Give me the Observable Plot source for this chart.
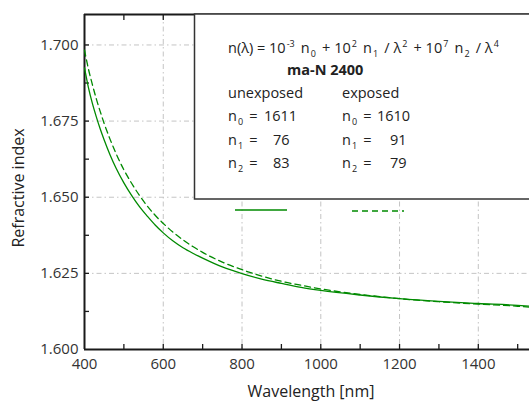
<!DOCTYPE html>
<html>
<head>
<meta charset="utf-8">
<script src="https://cdn.jsdelivr.net/npm/d3@7"></script>
<script src="https://cdn.jsdelivr.net/npm/@observablehq/plot@0.6"></script>
<style>
  html, body { margin: 0; padding: 0; background: #fff; }
  #chart svg { display: block; }
</style>
</head>
<body>
<div id="chart"></div>
<script>
// Wavelength samples (nm)
const wavelength = [400, 410, 420, 430, 440, 450, 465, 480, 500, 520, 540, 560, 580, 600, 625, 650, 675, 700, 750, 800, 850, 900, 950, 1000, 1100, 1200, 1300, 1400, 1500, 1530];
// Refractive index of ma-N 2400, unexposed film
const nUnexposed = [1.6925, 1.6860, 1.6808, 1.6764, 1.6724, 1.6688, 1.6639, 1.6596, 1.6547, 1.6505, 1.6468, 1.6437, 1.6408, 1.6383, 1.6356, 1.6334, 1.6316, 1.6300, 1.6271, 1.6249, 1.6231, 1.6217, 1.6204, 1.6194, 1.6179, 1.6167, 1.6158, 1.6151, 1.6145, 1.6142];
// Refractive index of ma-N 2400, exposed film
const nExposed = [1.6983, 1.6921, 1.6870, 1.6823, 1.6781, 1.6742, 1.6690, 1.6644, 1.6590, 1.6545, 1.6505, 1.6470, 1.6440, 1.6414, 1.6385, 1.6360, 1.6338, 1.6319, 1.6287, 1.6262, 1.6241, 1.6224, 1.6211, 1.6199, 1.6181, 1.6167, 1.6157, 1.6149, 1.6142, 1.6139];

// Axis ticks
const xLabelTicks = [400, 600, 800, 1000, 1200, 1400];
const xMinorTicks = [500, 600, 700, 800, 900, 1000, 1100, 1200, 1300, 1400, 1500];
const xGrid = [600, 800, 1000, 1200, 1400];
const yLabelTicks = [1.600, 1.625, 1.650, 1.675, 1.700];
const yMinorTicks = [1.6125, 1.625, 1.6375, 1.650, 1.6625, 1.675, 1.6875, 1.700];
const yGrid = [1.625, 1.650, 1.675, 1.700];

// Cauchy coefficients shown in the inset
const coeffNames = ["0", "1", "2"];
const coeffUnexposed = ["1611", "76", "83"];
const coeffExposed = ["1610", "91", "79"];

const unexposed = wavelength.map((w, i) => ({w, n: nUnexposed[i]}));
const exposed = wavelength.map((w, i) => ({w, n: nExposed[i]}));

const FONT = "Open Sans, sans-serif";
const GREEN = "#008a00";
const AXIS = "#1a1a1a";
const GRIDC = "#c4c4c4";

const plot = Plot.plot({
  width: 529,
  height: 403,
  marginLeft: 84,
  marginRight: 0,
  marginTop: 14,
  marginBottom: 54,
  style: {fontFamily: FONT, fontSize: "15px", color: "#333", background: "#fff"},
  x: {domain: [400, 1530]},
  y: {domain: [1.6, 1.71]},
  marks: [
    Plot.gridX(xGrid, {stroke: GRIDC, strokeOpacity: 1, strokeDasharray: "5,3,1.5,3"}),
    Plot.gridY(yGrid, {stroke: GRIDC, strokeOpacity: 1, strokeDasharray: "5,3,1.5,3"}),
    // inward tick marks
    Plot.axisX(xMinorTicks, {anchor: "bottom", tickSize: 5, dy: -5, text: null, label: null, stroke: AXIS, strokeWidth: 1.3}),
    Plot.axisX(xMinorTicks, {anchor: "top", tickSize: 5, dy: 5, text: null, label: null, stroke: AXIS, strokeWidth: 1.3}),
    Plot.axisY(yMinorTicks, {anchor: "left", tickSize: 5, dx: 5, text: null, label: null, stroke: AXIS, strokeWidth: 1.3}),
    // tick labels
    Plot.axisX(xLabelTicks, {anchor: "bottom", tickSize: 0, tickPadding: 9, tickFormat: d3.format("d"), label: null, fill: "#333"}),
    Plot.axisY(yLabelTicks, {anchor: "left", tickSize: 0, tickPadding: 6, tickFormat: d3.format(".3f"), label: null, fill: "#333"}),
    // frame: left, bottom, top
    Plot.ruleX([400], {stroke: AXIS, strokeWidth: 2}),
    Plot.ruleY([1.6], {stroke: AXIS, strokeWidth: 2}),
    Plot.ruleY([1.71], {stroke: AXIS, strokeWidth: 2}),
    Plot.line(unexposed, {x: "w", y: "n", stroke: GREEN, strokeWidth: 1.3, curve: "monotone-x"}),
    Plot.line(exposed, {x: "w", y: "n", stroke: GREEN, strokeWidth: 1.3, strokeDasharray: "6,4", curve: "monotone-x"})
  ]
});

document.getElementById("chart").appendChild(plot);

const svg = d3.select(plot);

// axis titles
svg.append("text")
  .attr("x", 311).attr("y", 397)
  .attr("text-anchor", "middle")
  .attr("font-family", FONT).attr("font-size", 16).attr("fill", "#222")
  .text("Wavelength [nm]");
svg.append("text")
  .attr("transform", "translate(24,188) rotate(-90)")
  .attr("text-anchor", "middle")
  .attr("font-family", FONT).attr("font-size", 16).attr("fill", "#222")
  .text("Refractive index");

// inset box with the dispersion formula
svg.append("rect")
  .attr("x", 194.5).attr("y", 14).attr("width", 360).attr("height", 185)
  .attr("fill", "#fff").attr("stroke", "#333").attr("stroke-width", 1.5);

const box = svg.append("g")
  .attr("font-family", FONT).attr("font-size", 14.5).attr("fill", "#222")
  .attr("text-anchor", "start");

function rich(g, x, y, parts) {
  const t = g.append("text").attr("x", x).attr("y", y);
  for (const p of parts) {
    if (typeof p === "string") { t.append("tspan").text(p); continue; }
    const shift = p.sup ? -6 : 4;
    t.append("tspan").attr("dx", 1).attr("dy", shift).attr("font-size", 9).text(p.sup ?? p.sub);
    t.append("tspan").attr("dy", -shift).text("\u2009");
  }
  return t;
}

rich(box, 228, 53, [
  "n(\u03bb) = 10", {sup: "-3"}, " n", {sub: "0"}, " + 10", {sup: "2"}, " n", {sub: "1"},
  " / \u03bb", {sup: "2"}, " + 10", {sup: "7"}, " n", {sub: "2"}, " / \u03bb", {sup: "4"}
]);
box.append("text").attr("x", 287).attr("y", 75).attr("font-weight", "bold").text("ma-N 2400");
box.append("text").attr("x", 228).attr("y", 98).text("unexposed");
box.append("text").attr("x", 342).attr("y", 98).text("exposed");

const rowY = [121, 145, 168];
const uStart = [264, 273, 273];
const eStart = [377, 390, 390];
coeffNames.forEach((c, i) => {
  rich(box, 228, rowY[i], ["n", {sub: c}, " ="]);
  box.append("text").attr("x", uStart[i]).attr("y", rowY[i]).text(coeffUnexposed[i]);
  rich(box, 342, rowY[i], ["n", {sub: c}, " ="]);
  box.append("text").attr("x", eStart[i]).attr("y", rowY[i]).text(coeffExposed[i]);
});

// legend line samples
svg.append("line").attr("x1", 235).attr("x2", 287).attr("y1", 210).attr("y2", 210)
  .attr("stroke", GREEN).attr("stroke-width", 1.3);
svg.append("line").attr("x1", 352).attr("x2", 404).attr("y1", 211).attr("y2", 211)
  .attr("stroke", GREEN).attr("stroke-width", 1.3).attr("stroke-dasharray", "6,4");
</script>
</body>
</html>
